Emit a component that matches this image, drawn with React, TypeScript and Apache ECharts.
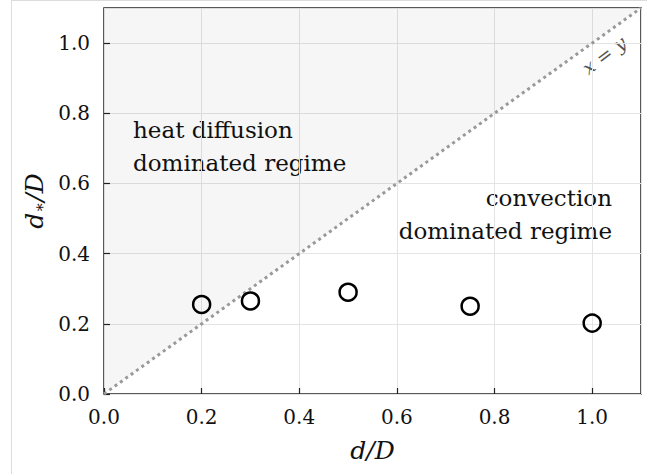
import React, { useEffect, useRef } from "react";
import * as echarts from "echarts";

const xValues = [0.2, 0.3, 0.5, 0.75, 1.0];
const yValues = [0.255, 0.265, 0.29, 0.25, 0.202];
const diagonal = [
  [0, 0],
  [1.1, 1.1],
];
const axisMin = 0;
const axisMax = 1.1;
const tickStep = 0.2;
const regionLeft = ["heat diffusion", "dominated regime"];
const regionRight = ["convection", "dominated regime"];

const FONT = "DejaVu Serif";

export default function App() {
  const ref = useRef<HTMLDivElement>(null);
  useEffect(() => {
    if (!ref.current) return;
    const chart = echarts.init(ref.current, undefined, { renderer: "svg" });
    const axisCommon = {
      type: "value",
      min: axisMin,
      max: axisMax,
      interval: tickStep,
      axisLine: { show: false },
      axisTick: { show: true, inside: true, length: 6, lineStyle: { color: "#222", width: 1.2 } },
      splitLine: { show: true, lineStyle: { color: "#e4e4e4", width: 1 } },
      axisLabel: {
        color: "#111",
        fontFamily: FONT,
        fontSize: 20,
        showMaxLabel: false,
        formatter: (v: number) => (Math.abs(v / tickStep - Math.round(v / tickStep)) < 1e-6 ? v.toFixed(1) : ""),
      },
    };
    chart.setOption({
      animation: false,
      backgroundColor: "#fff",
      grid: {
        left: 104,
        right: 16,
        top: 8,
        bottom: 80,
        show: true,
        borderColor: "#222",
        borderWidth: 1.5,
        containLabel: false,
      },
      xAxis: {
        ...axisCommon,
        axisLabel: { ...axisCommon.axisLabel, margin: 13 },
        name: "d/D",
        nameLocation: "middle",
        nameGap: 44,
        nameTextStyle: { fontFamily: FONT, fontSize: 25, fontStyle: "italic", color: "#111" },
      },
      yAxis: {
        ...axisCommon,
        axisLabel: { ...axisCommon.axisLabel, margin: 14 },
        name: "{a|d}{s|∗}{a|/D}",
        nameLocation: "middle",
        nameGap: 56,
        nameRotate: 90,
        nameTextStyle: {
          color: "#111",
          rich: {
            a: { fontFamily: FONT, fontSize: 25, fontStyle: "italic", color: "#111" },
            s: { fontFamily: FONT, fontSize: 16, color: "#111", verticalAlign: "bottom", padding: [10, 0, 0, 0] },
          },
        },
      },
      series: [
        {
          type: "line",
          data: diagonal,
          symbol: "none",
          silent: true,
          z: 1,
          lineStyle: { color: "#999", width: 3, type: [3, 3.6] },
          areaStyle: { origin: "end", color: "rgba(0,0,0,0.05)" },
        },
        {
          type: "scatter",
          data: xValues.map((x, i) => [x, yValues[i]]),
          symbol: "circle",
          symbolSize: 17,
          z: 3,
          itemStyle: { color: "rgba(0,0,0,0)", borderColor: "#000", borderWidth: 2.5, opacity: 1 },
        },
      ],
      graphic: [
        { type: "line", shape: { x1: 11.5, y1: 0, x2: 11.5, y2: 474 }, style: { stroke: "#dcdcdc", lineWidth: 1 } },
        { type: "line", shape: { x1: 11, y1: 0.5, x2: 647, y2: 0.5 }, style: { stroke: "#dcdcdc", lineWidth: 1 } },
        {
          type: "text",
          x: 133,
          y: 113,
          style: {
            text: regionLeft.join("\n"),
            fontFamily: FONT,
            fontSize: 23,
            fill: "#111",
            lineHeight: 33,
            align: "left",
            verticalAlign: "top",
          },
        },
        {
          type: "text",
          x: 612,
          y: 181,
          style: {
            text: regionRight.join("\n"),
            fontFamily: FONT,
            fontSize: 23,
            fill: "#111",
            lineHeight: 33,
            align: "right",
            verticalAlign: "top",
          },
        },
        {
          type: "text",
          x: 604,
          y: 55,
          rotation: (37 * Math.PI) / 180,
          style: {
            text: "x = y",
            fontFamily: FONT,
            fontSize: 19,
            fontStyle: "italic",
            fill: "#555",
            align: "center",
            verticalAlign: "middle",
          },
        },
      ],
    });
    return () => chart.dispose();
  }, []);
  return <div ref={ref} style={{ width: 657, height: 474, position: "absolute", left: 0, top: 0 }} />;
}
